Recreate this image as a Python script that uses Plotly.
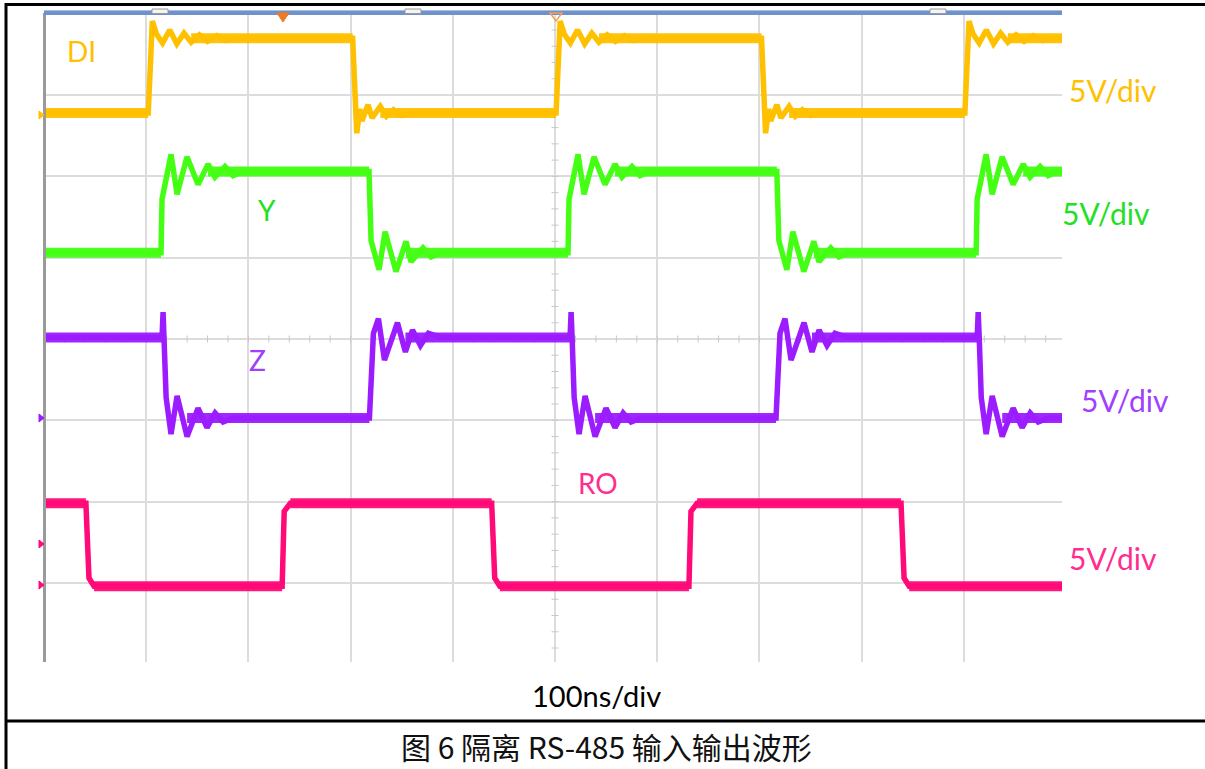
import plotly.graph_objects as go

# ---------------- data (time in ns, amplitude in screen divisions) ----------------
X_RANGE = [0, 996]
Y_RANGE = [0.028, 8.009]

# channel levels: [low, high] in divisions above screen bottom
di_levels = [6.78, 7.70]
y_levels = [5.06, 6.06]
z_levels = [3.03, 4.02]
ro_levels = [0.96, 1.98]

# edge times (ns) and starting state (0 = low, 1 = high)
di_edges = [102, 302, 501, 702, 901]
di_start = 0
y_edges = [114.5, 318, 512.7, 717, 912]
y_start = 0
z_edges = [115.5, 318.4, 514.7, 716.2, 913]
z_start = 1
ro_edges = [41, 233, 438, 631, 838.5]
ro_start = 1

# ringing after each edge: time after edge (ns), offset from new level (div)
di_rise_dt = [4, 8, 14, 21, 28, 35, 42, 50, 58, 67, 76, 85]
di_rise_dv = [0.21, 0.05, -0.06, 0.10, -0.07, 0.06, -0.05, 0.04, -0.04, 0.03, -0.03, 0.0]
di_fall_dt = [4, 7, 9, 15, 19, 27, 33, 40, 48, 56]
di_fall_dv = [-0.25, 0.05, -0.10, 0.10, -0.06, 0.08, -0.04, 0.04, -0.03, 0.0]

y_rise_dt = [1, 9.8, 15.7, 25.4, 36.2, 46, 52.8, 62.6, 70.5, 79.3]
y_rise_dv = [-0.34, 0.21, -0.28, 0.18, -0.16, 0.09, -0.07, 0.06, -0.05, 0.0]
y_fall_dt = [2, 9.8, 15.7, 26.4, 36.2, 41.1, 52.8, 60.7, 70.5]
y_fall_dv = [0.15, -0.21, 0.26, -0.23, 0.14, -0.11, 0.06, -0.05, 0.0]

z_fall_dt = [1, 2, 4, 8.8, 14.7, 24.5, 35.2, 44, 51.9, 59.7, 69.5]
z_fall_dv = [1.30, 0.99, 0.25, -0.20, 0.27, -0.23, 0.12, -0.12, 0.06, -0.05, 0.0]
z_rise_dt = [3.9, 8.8, 14.7, 27.4, 35.2, 42.1, 49.9, 57.7, 69.5]
z_rise_dv = [0.05, 0.23, -0.28, 0.18, -0.18, 0.09, -0.10, 0.05, 0.0]

ro_rise_dt = [2, 8]
ro_rise_dv = [-0.10, 0.0]
ro_fall_dt = [3, 8]
ro_fall_dv = [0.10, 0.0]

labels = ["DI", "Y", "Z", "RO"]
trace_colors = ["#FFC000", "#44FF14", "#9B1CFF", "#FF0A78"]
label_colors = ["#FFC000", "#22E022", "#A040FF", "#FF2D8F"]
scale_text = "5V/div"
time_text = "100ns/div"
caption = "图 6 隔离 RS-485 输入输出波形"


def build(levels, edges, start, rise_dt, rise_dv, fall_dt, fall_dv):
    xs, ys = [X_RANGE[0]], [levels[start]]
    bx, by = [X_RANGE[0]], [levels[start]]
    state = start
    for e in edges:
        old = levels[state]
        state = 1 - state
        new = levels[state]
        dts, dvs = (rise_dt, rise_dv) if state == 1 else (fall_dt, fall_dv)
        xs.append(e); ys.append(old)
        bx += [e, None]; by += [old, None]
        for dt, dv in zip(dts, dvs):
            xs.append(e + dt); ys.append(new + dv)
        bx.append(e + dts[len(dts) // 2]); by.append(new)
    xs.append(X_RANGE[1]); ys.append(levels[state])
    bx.append(X_RANGE[1]); by.append(levels[state])
    return xs, ys, bx, by


channels = [
    build(di_levels, di_edges, di_start, di_rise_dt, di_rise_dv, di_fall_dt, di_fall_dv),
    build(y_levels, y_edges, y_start, y_rise_dt, y_rise_dv, y_fall_dt, y_fall_dv),
    build(z_levels, z_edges, z_start, z_rise_dt, z_rise_dv, z_fall_dt, z_fall_dv),
    build(ro_levels, ro_edges, ro_start, ro_rise_dt, ro_rise_dv, ro_fall_dt, ro_fall_dv),
]

# ---------------- figure ----------------
W, H = 1205, 769
SX0, SX1, SY0, SY1 = 44, 1062, 13, 662


def px(x):
    return x / W


def py(y):
    return 1 - y / H


fig = go.Figure()

# centre-line graticule ticks
cx = [X_RANGE[0] + 20 * i for i in range(50)]
cy = [0.2 * i for i in range(1, 41)]
fig.add_trace(go.Scatter(x=cx, y=[4] * len(cx), mode="markers", hoverinfo="skip",
                         marker=dict(symbol="line-ns", size=5, line=dict(color="#c8c8c8", width=1))))
fig.add_trace(go.Scatter(x=[500] * len(cy), y=cy, mode="markers", hoverinfo="skip",
                         marker=dict(symbol="line-ew", size=5, line=dict(color="#c8c8c8", width=1))))

for (xs, ys, bx, by), col in zip(channels, trace_colors):
    fig.add_trace(go.Scatter(x=bx, y=by, mode="lines", line=dict(color=col, width=10),
                             opacity=0.95, connectgaps=False, hoverinfo="skip"))
    fig.add_trace(go.Scatter(x=xs, y=ys, mode="lines", line=dict(color=col, width=5.5),
                             hoverinfo="skip"))

axis_common = dict(showticklabels=False, ticks="", zeroline=False, showline=False)
fig.update_layout(
    width=W, height=H, margin=dict(l=0, r=0, t=0, b=0),
    paper_bgcolor="white", plot_bgcolor="white", showlegend=False,
    xaxis=dict(domain=[SX0 / W, SX1 / W], range=X_RANGE, dtick=100, tick0=0,
               showgrid=True, gridcolor="#dcdcdc", gridwidth=2, **axis_common),
    yaxis=dict(domain=[1 - SY1 / H, 1 - SY0 / H], range=Y_RANGE, dtick=1, tick0=0,
               showgrid=True, gridcolor="#dcdcdc", gridwidth=2, **axis_common),
)

shapes = []
P = dict(xref="paper", yref="paper")
# scope left edge and top bar
shapes.append(dict(type="line", x0=px(44.5), x1=px(44.5), y0=py(13), y1=py(662),
                   line=dict(color="#9a9a9a", width=3), **P))
shapes.append(dict(type="rect", x0=px(44), x1=px(1062), y0=py(10.5), y1=py(15),
                   fillcolor="#6f92cc", line=dict(width=0), **P))
shapes.append(dict(type="line", x0=px(44), x1=px(1062), y0=py(10.5), y1=py(10.5),
                   line=dict(color="#a8bde0", width=1), **P))
for hx in [160, 413, 938]:
    shapes.append(dict(type="rect", x0=px(hx - 8), x1=px(hx + 8), y0=py(9), y1=py(13.5),
                       fillcolor="#f4f4f4", line=dict(color="#9a9a9a", width=1), **P))


def tri(pts):
    return "M " + " L ".join(f"{px(a):.5f} {py(b):.5f}" for a, b in pts) + " Z"


shapes.append(dict(type="path", path=tri([(277, 13), (289, 13), (283, 22)]),
                   fillcolor="#F07A22", line=dict(color="#F07A22", width=1), **P))
shapes.append(dict(type="path", path=tri([(550, 13), (562, 13), (556, 21)]),
                   fillcolor="rgba(0,0,0,0)", line=dict(color="#F0A060", width=1.5), **P))
# channel ground markers on left
for my, mc in [(115, trace_colors[0]), (418, trace_colors[2]), (544, trace_colors[3]), (585, trace_colors[3])]:
    shapes.append(dict(type="path", path=tri([(39, my - 4), (44, my), (39, my + 4)]),
                       fillcolor=mc, line=dict(color=mc, width=1), **P))
# document borders
shapes.append(dict(type="line", x0=px(5), x1=1, y0=py(4.5), y1=py(4.5),
                   line=dict(color="black", width=3), **P))
shapes.append(dict(type="line", x0=px(6), x1=px(6), y0=py(3), y1=0,
                   line=dict(color="black", width=3), **P))
shapes.append(dict(type="line", x0=px(5), x1=1, y0=py(721), y1=py(721),
                   line=dict(color="black", width=3), **P))
fig.update_layout(shapes=shapes)

LAT = "Lato, 'Open Sans', sans-serif"
ann = []
label_pos = [(81, 51), (267, 210), (257, 360), (598, 483)]
scale_pos = [(1113, 90), (1106, 213), (1125, 400), (1113, 558)]
for t, (lx, ly), (sx, sy), c in zip(labels, label_pos, scale_pos, label_colors):
    ann.append(dict(text=t, x=px(lx), y=py(ly), showarrow=False,
                    xanchor="center", yanchor="middle", font=dict(family=LAT, size=28, color=c), **P))
    ann.append(dict(text=scale_text, x=px(sx), y=py(sy), showarrow=False,
                    xanchor="center", yanchor="middle", font=dict(family=LAT, size=30, color=c), **P))
ann.append(dict(text=time_text, x=px(596), y=py(695), showarrow=False,
                xanchor="center", yanchor="middle", font=dict(family=LAT, size=29, color="black"), **P))
ann.append(dict(text=caption, x=px(606), y=py(746), showarrow=False,
                xanchor="center", yanchor="middle",
                font=dict(family="'Noto Sans CJK SC', sans-serif", size=30, color="#111111"), **P))
fig.update_layout(annotations=ann)

fig.write_html("out.html", config={"displayModeBar": False},
               post_script="document.body.style.margin='0';")
